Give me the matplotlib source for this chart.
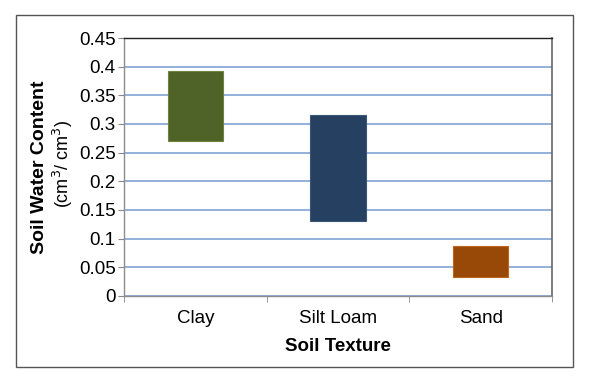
import numpy as np
import matplotlib.pyplot as plt
from matplotlib.patches import Rectangle

plt.rcParams['font.family'] = ['Liberation Sans', 'DejaVu Sans']

textures = ['Clay', 'Silt Loam', 'Sand']
wc_low = [0.271, 0.130, 0.033]    # lower bound (wilting point)
wc_high = [0.393, 0.315, 0.088]   # upper bound (field capacity)
bar_colors = ['#4F6228', '#254061', '#984807']
edge_colors = ['#6E8540', '#3B5778', '#C0651A']
yticks = [0, 0.05, 0.1, 0.15, 0.2, 0.25, 0.3, 0.35, 0.4, 0.45]
ytick_labels = ['0', '0.05', '0.1', '0.15', '0.2', '0.25', '0.3', '0.35', '0.4', '0.45']

fig = plt.figure(figsize=(6, 3.77), dpi=100)
ax = fig.add_axes([0.2067, 0.2149, 0.7133, 0.6843])

# outer frame around the whole chart
fig.patches.append(Rectangle((16/600, 1-367/377), (573-16)/600, (367-15)/377,
                             transform=fig.transFigure, fill=False,
                             edgecolor='#555555', linewidth=1.0))

x = np.arange(len(textures))
heights = np.array(wc_high) - np.array(wc_low)
ax.bar(x, heights, bottom=wc_low, width=0.39, color=bar_colors,
       edgecolor=edge_colors, linewidth=0.8, zorder=3)

ax.set_ylim(0, 0.45)
ax.set_yticks(yticks)
ax.set_yticklabels(ytick_labels)
ax.yaxis.grid(True, color='#7FA3D6', linewidth=1.2, zorder=0)
ax.set_axisbelow(True)

ax.set_xlim(-0.5, 2.5)
ax.set_xticks(x)
ax.set_xticklabels(textures)
ax.set_xticks([-0.5, 0.5, 1.5, 2.5], minor=True)
ax.tick_params(axis='x', which='major', length=0, labelsize=13.5, pad=10)
ax.tick_params(axis='x', which='minor', length=4, color='#888888', direction='out')
ax.tick_params(axis='y', length=4, color='#888888', labelsize=13.5, pad=2)

for s in ['left', 'bottom']:
    ax.spines[s].set_color('#8C8C8C')
    ax.spines[s].set_linewidth(1.0)
ax.spines['top'].set_color('#222222')
ax.spines['top'].set_linewidth(1.0)
ax.spines['right'].set_color('#666666')
ax.spines['right'].set_linewidth(1.2)

ax.set_xlabel('Soil Texture', fontsize=13.5, fontweight='bold', labelpad=8)
fig.text(40/600, 1-167/377, 'Soil Water Content', rotation=90, fontsize=14,
         fontweight='bold', ha='center', va='center')
fig.text(63/600, 1-164/377, '(cm$^{3}$/ cm$^{3}$)', rotation=90, fontsize=13,
         ha='center', va='center')

fig.savefig('out.png', dpi=100)
